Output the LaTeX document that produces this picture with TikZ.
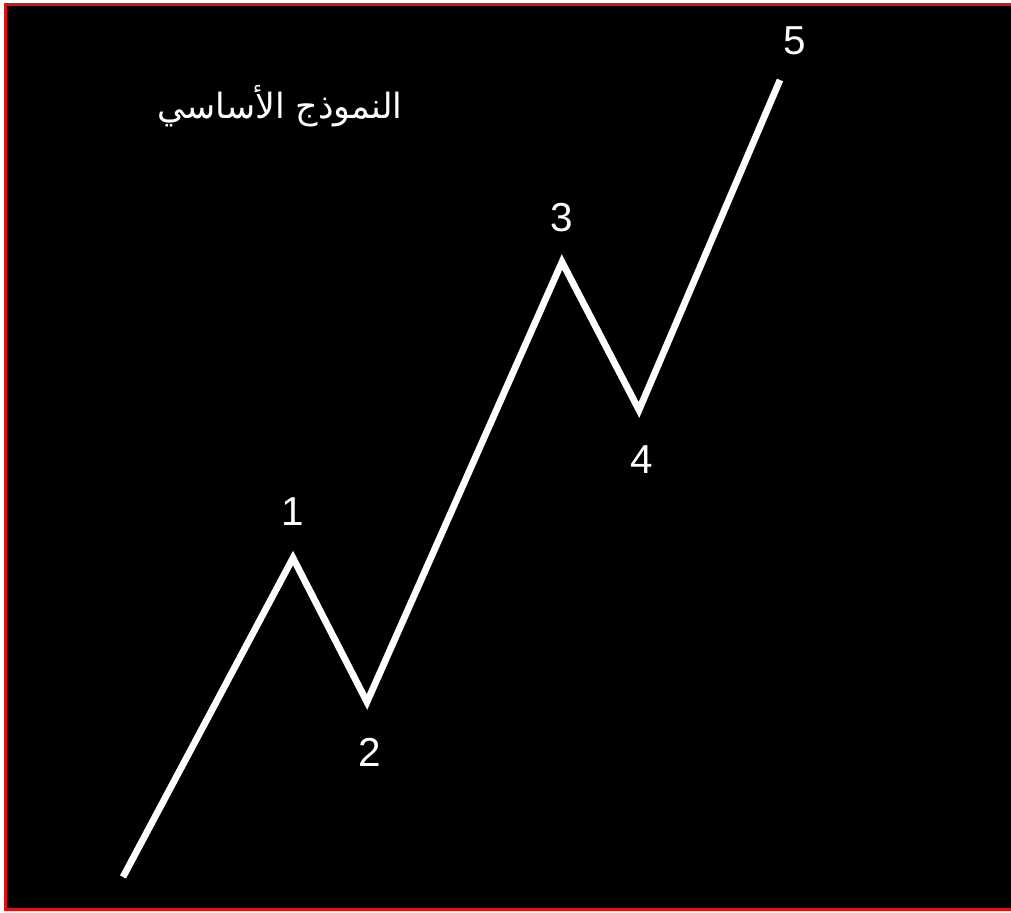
\documentclass[tikz,border=0pt]{standalone}
\usepackage{fontspec}
\setmainfont{Liberation Sans}
\newfontfamily\arabicfont[Script=Arabic]{DejaVu Sans}
\TeXXeTstate=1
\usepackage{tikz}
\definecolor{framered}{HTML}{E01010}
\tikzset{
  wave/.style={draw=white, line width=0.135cm, line join=miter, line cap=butt},
  wavelabel/.style={text=white, font=\fontsize{23}{26}\selectfont, inner sep=0pt},
  titlelabel/.style={text=white, font=\arabicfont\fontsize{19.8}{22}\selectfont, inner sep=0pt}
}
\begin{document}
\begin{tikzpicture}
  \useasboundingbox (0,0) rectangle (20.22,18.26);
  \fill[black] (0.1,0.06) rectangle (20.8,18.16);
  \draw[framered, line width=0.06cm] (0.1,0.06) rectangle (20.8,18.16);

  % wave points
  \coordinate (w0) at (2.46,0.72);
  \coordinate (w1) at (5.86,7.10);
  \coordinate (w2) at (7.34,4.22);
  \coordinate (w3) at (11.24,13.02);
  \coordinate (w4) at (12.78,10.06);
  \coordinate (w5) at (15.60,16.66);

  \draw[wave] (w0) -- (w1) -- (w2) -- (w3) -- (w4) -- (w5);

  \node[wavelabel] (l1) at (5.86,8.02) {1};
  \node[wavelabel] (l2) at (7.40,3.22) {2};
  \node[wavelabel] (l3) at (11.24,13.90) {3};
  \node[wavelabel] (l4) at (12.84,9.06) {4};
  \node[wavelabel] (l5) at (15.90,17.44) {5};

  \node[titlelabel] (title) at (5.60,16.14) {\beginR النموذج الأساسي\endR};
\end{tikzpicture}
\end{document}
